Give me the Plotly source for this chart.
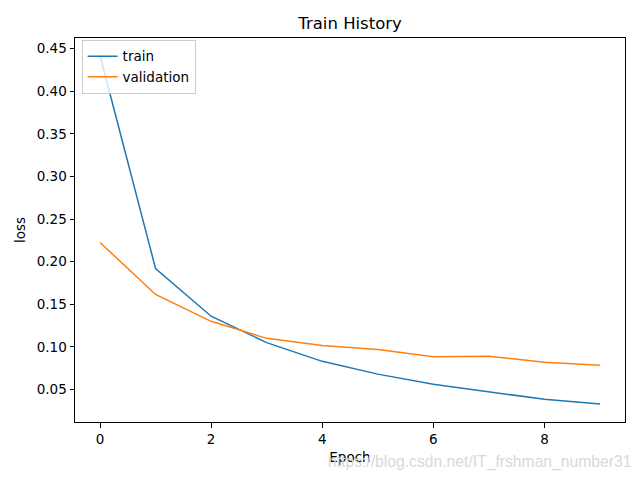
import plotly.graph_objects as go

epochs = list(range(10))
train_loss = [0.442, 0.192, 0.136, 0.105, 0.083, 0.068, 0.056, 0.047, 0.0385, 0.0328]
val_loss = [0.2226, 0.1615, 0.130, 0.110, 0.1015, 0.097, 0.0885, 0.089, 0.082, 0.0785]
x_ticks = [0, 2, 4, 6, 8]
y_ticks = [0.05, 0.10, 0.15, 0.20, 0.25, 0.30, 0.35, 0.40, 0.45]

FONT = "DejaVu Sans"

fig = go.Figure()
fig.add_trace(go.Scatter(x=epochs, y=train_loss, mode="lines", name="train",
                         line=dict(color="#1f77b4", width=1.5)))
fig.add_trace(go.Scatter(x=epochs, y=val_loss, mode="lines", name="validation",
                         line=dict(color="#ff7f0e", width=1.5)))

axis_common = dict(showgrid=False, zeroline=False, showline=True, linecolor="black",
                   linewidth=1, mirror=True, ticks="outside", ticklen=4.5,
                   tickwidth=1, tickcolor="black",
                   tickfont=dict(family=FONT, size=13.5, color="black"))

fig.update_layout(
    width=640, height=480,
    margin=dict(l=75, r=15, t=38, b=58),
    paper_bgcolor="white", plot_bgcolor="white",
    font=dict(family=FONT, size=13.5, color="black"),
    title=dict(text="Train History", x=0.547, xanchor="center", y=0.951, yanchor="middle",
               font=dict(family=FONT, size=16.5, color="black")),
    xaxis=dict(range=[-0.45, 9.45], tickvals=x_ticks, ticktext=[str(v) for v in x_ticks],
               title=dict(text="Epoch", standoff=6, font=dict(family=FONT, size=13.5)),
               **axis_common),
    yaxis=dict(range=[0.0118, 0.4626], tickvals=y_ticks,
               ticktext=["%.2f" % v for v in y_ticks],
               title=dict(text="loss", standoff=8, font=dict(family=FONT, size=13.5)),
               **axis_common),
    legend=dict(x=0.012, y=0.995, xanchor="left", yanchor="top",
                bgcolor="rgba(255,255,255,0.8)", bordercolor="#cccccc", borderwidth=1,
                font=dict(family=FONT, size=13.5), tracegroupgap=0,
                itemwidth=30),
    showlegend=True,
)

fig.add_annotation(text="https://blog.csdn.net/IT_frshman_number31", xref="paper", yref="paper",
                   x=1.0, y=-0.105, xanchor="right", yanchor="middle", showarrow=False,
                   xshift=8,
                   font=dict(family="Liberation Sans", size=15.7, color="#d9d9d9"))

fig.write_html("out.html")
